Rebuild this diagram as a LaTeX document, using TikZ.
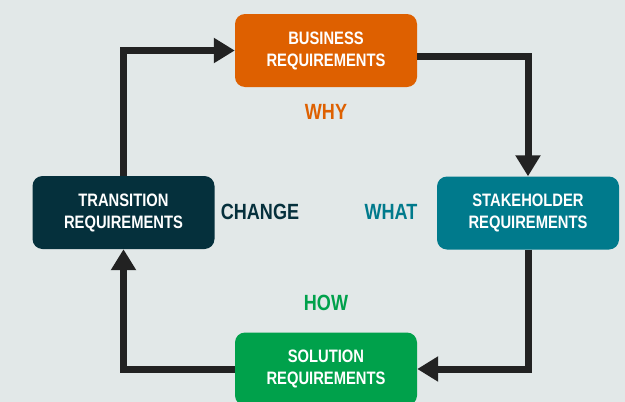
\documentclass[tikz,border=0pt]{standalone}
\usepackage{fontspec}
\setmainfont{Liberation Sans}[FakeStretch=0.82]
\usetikzlibrary{arrows.meta}
\definecolor{bgc}{HTML}{E2E8E8}
\definecolor{orng}{HTML}{DE6000}
\definecolor{teal}{HTML}{007A8C}
\definecolor{dark}{HTML}{05303C}
\definecolor{grn}{HTML}{00A14B}
\definecolor{arrc}{HTML}{222222}
\tikzset{
  reqbox/.style={draw=none, fill=#1, rounded corners=10pt, minimum width=182pt, minimum height=73pt,
    inner sep=0pt, text=white, align=center, font=\fontsize{18}{22}\selectfont\bfseries},
  lbl/.style={text=#1, inner sep=0pt, font=\fontsize{22}{26}\selectfont\bfseries},
  arr/.style={draw=arrc, line width=7pt, line join=miter, -{Triangle[length=21pt,width=24pt]}}
}
\begin{document}
\begin{tikzpicture}[x=1pt,y=-1pt]
\fill[bgc] (0,0) rectangle (625,402);
\useasboundingbox (0,0) rectangle (625,402);
\node[reqbox=orng] (bus) at (326,50.5) {BUSINESS\\REQUIREMENTS};
\node[reqbox=teal] (stake) at (528,213) {STAKEHOLDER\\REQUIREMENTS};
\node[reqbox=dark] (trans) at (123.5,212.5) {TRANSITION\\REQUIREMENTS};
\node[reqbox=grn] (sol) at (326,369) {SOLUTION\\REQUIREMENTS};
\node[lbl=orng] (why) at (326,112) {WHY};
\node[lbl=teal] (what) at (391,211.5) {WHAT};
\node[lbl=dark] (change) at (260,211.5) {CHANGE};
\node[lbl=grn] (how) at (326,303) {HOW};
\draw[arr] (trans.north) |- (bus.west);
\draw[arr] ([yshift=-5.5pt]bus.east) -| (stake.north);
\draw[arr] (stake.south) |- (sol.east);
\draw[arr] (sol.west) -| (trans.south);
\end{tikzpicture}
\end{document}
